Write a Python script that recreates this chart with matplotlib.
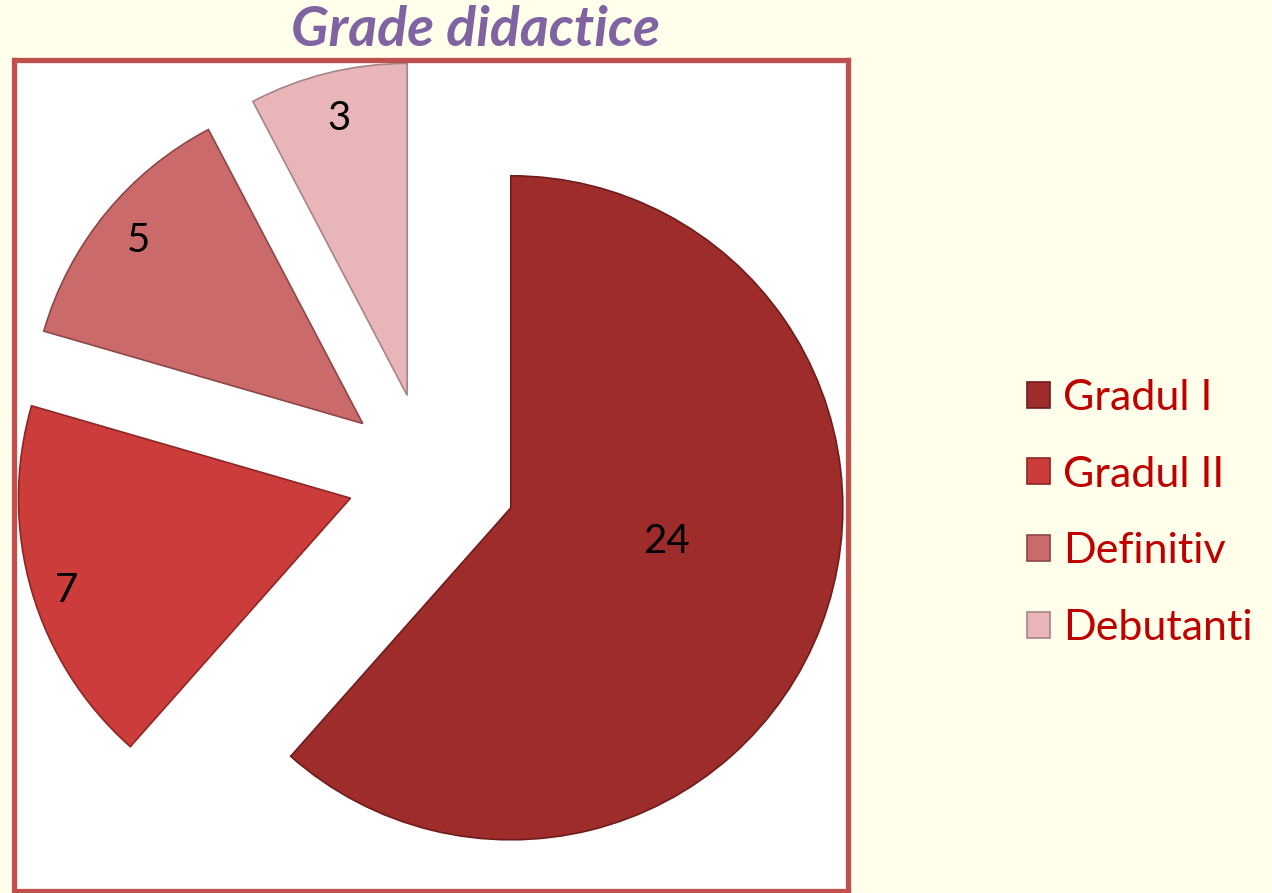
import numpy as np
import matplotlib.pyplot as plt

# Date
categorii = ['Gradul I', 'Gradul II', 'Definitiv', 'Debutanti']
valori = [24, 7, 5, 3]

# Stil
culori = ['#9E2C2B', '#CC3C3A', '#CB6A6A', '#E8B6B8']
margini = ['#6E1C1C', '#8E2626', '#8E4646', '#A88486']
explodare = [0.27, 0.24, 0.25, 0.25]
dist_eticheta = [0.48, 0.9, 0.87, 0.86]
unghi_eticheta = [8.7, 1.8, 0, 0]
fundal = '#FFFFEC'
rosu_chenar = '#C0504D'

fig = plt.figure(figsize=(12.72, 8.93), dpi=100)
fig.patch.set_facecolor(fundal)

# axa plasata astfel incat raza = 332 px, centrul la (427, 476) px
W, H = 1272, 893
x0, x1, y0, y1 = 14.5, 847.5, 59.5, 890.5
cx, cy, r = 427, 476, 332
ax = fig.add_axes([x0 / W, (H - y1) / H, (x1 - x0) / W, (y1 - y0) / H])

wedges, _ = ax.pie(valori, colors=culori, explode=explodare, startangle=90,
                   counterclock=False, radius=1, frame=True,
                   wedgeprops=dict(linewidth=1.2))
for w, e in zip(wedges, margini):
    w.set_edgecolor(e)

ax.set_facecolor('white')
ax.set_aspect('auto')
ax.set_xlim((x0 - cx) / r, (x1 - cx) / r)
ax.set_ylim(-(y1 - cy) / r, (cy - y0) / r)
ax.set_xticks([])
ax.set_yticks([])
for s in ax.spines.values():
    s.set_color(rosu_chenar)
    s.set_linewidth(3.8)

# etichete valori
for w, v, d, da in zip(wedges, valori, dist_eticheta, unghi_eticheta):
    ang = np.deg2rad((w.theta1 + w.theta2) / 2 + da)
    px = w.center[0] + d * w.r * np.cos(ang)
    py = w.center[1] + d * w.r * np.sin(ang)
    ax.text(px, py, str(v), ha='center', va='center', fontsize=29,
            family='Lato', color='black')

fig.text(476 / W, 1 - 30 / H, 'Grade didactice', ha='center', va='center',
         fontsize=40, family='Lato', fontweight='bold', fontstyle='italic',
         color='#8064A2')

leg = fig.legend(wedges, categorii, loc='center left',
                 bbox_to_anchor=(988 / W, 1 - 513 / H), frameon=False,
                 prop={'family': 'Lato', 'size': 31}, labelcolor='#C00000',
                 handlelength=0.55, handleheight=0.55, handletextpad=0.3,
                 labelspacing=0.9)

fig.savefig('out.png', dpi=100, facecolor=fundal)
